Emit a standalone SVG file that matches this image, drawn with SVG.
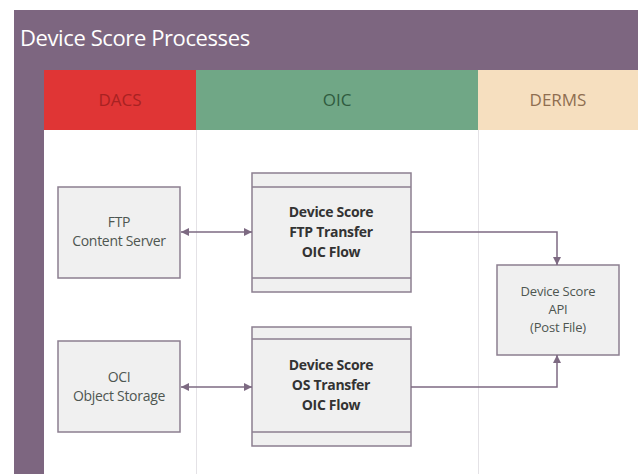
<svg xmlns="http://www.w3.org/2000/svg" width="638" height="474" viewBox="0 0 638 474">
<defs>
<style>
.lbl{font-family:"Open Sans","Liberation Sans",sans-serif;font-size:14px;fill:#4e5650;text-anchor:middle;letter-spacing:-0.3px}
.api{font-family:"Open Sans","Liberation Sans",sans-serif;font-size:13px;fill:#4e5650;text-anchor:middle;letter-spacing:-0.2px}
.bld{font-family:"Open Sans","Liberation Sans",sans-serif;font-size:14px;font-weight:bold;fill:#333;text-anchor:middle;letter-spacing:-0.3px}
.lane{font-family:"Open Sans","Liberation Sans",sans-serif;font-size:17px;text-anchor:middle}
.box{fill:#f0f0f0;stroke:#8c7f90;stroke-width:1.5}
.con{fill:none;stroke:#7d6a82;stroke-width:1.5}
</style>
<marker id="ah" viewBox="0 0 10 10" refX="10" refY="5" markerWidth="8" markerHeight="8" markerUnits="userSpaceOnUse" orient="auto-start-reverse">
<path d="M0,0 L10,5 L0,10 z" fill="#7d6a82"/>
</marker>
</defs>
<rect width="638" height="474" fill="#ffffff"/>
<g id="pool">
<rect x="14" y="10" width="624" height="60" fill="#7d6680"/>
<rect x="14" y="70" width="30" height="404" fill="#7d6680"/>
<text x="20" y="46" font-family="'Open Sans','Liberation Sans',sans-serif" font-size="22" letter-spacing="-0.4" fill="#ffffff">Device Score Processes</text>
</g>
<g id="lane-dacs">
<rect x="44" y="70" width="152" height="60" fill="#e03535"/>
<text class="lane" x="120" y="106" fill="#a82222">DACS</text>
</g>
<g id="lane-oic">
<rect x="196" y="70" width="282" height="60" fill="#70a786"/>
<text class="lane" x="337" y="106" fill="#2f5a3e">OIC</text>
</g>
<g id="lane-derms">
<rect x="478" y="70" width="160" height="60" fill="#f6dfbf"/>
<text class="lane" x="558" y="106" fill="#8f6e50">DERMS</text>
</g>
<g id="dividers" stroke="#e4e2e6" stroke-width="1">
<line x1="196.5" y1="130" x2="196.5" y2="474"/>
<line x1="478.5" y1="130" x2="478.5" y2="474"/>
</g>
<g id="ftp-server">
<rect class="box" x="58" y="187" width="122" height="91"/>
<text class="lbl" x="119" y="227">FTP</text>
<text class="lbl" x="119" y="246">Content Server</text>
</g>
<g id="ftp-flow">
<rect class="box" x="252" y="173" width="159" height="119"/>
<line x1="252" y1="187" x2="411" y2="187" stroke="#8c7f90" stroke-width="1.5"/>
<line x1="252" y1="278" x2="411" y2="278" stroke="#8c7f90" stroke-width="1.5"/>
<text class="bld" x="331" y="217">Device Score</text>
<text class="bld" x="331" y="237">FTP Transfer</text>
<text class="bld" x="331" y="257">OIC Flow</text>
</g>
<g id="oci-storage">
<rect class="box" x="58" y="341" width="122" height="91"/>
<text class="lbl" x="119" y="382">OCI</text>
<text class="lbl" x="119" y="401">Object Storage</text>
</g>
<g id="os-flow">
<rect class="box" x="252" y="327" width="159" height="119"/>
<line x1="252" y1="339" x2="411" y2="339" stroke="#8c7f90" stroke-width="1.5"/>
<line x1="252" y1="432" x2="411" y2="432" stroke="#8c7f90" stroke-width="1.5"/>
<text class="bld" x="331" y="370">Device Score</text>
<text class="bld" x="331" y="390">OS Transfer</text>
<text class="bld" x="331" y="410">OIC Flow</text>
</g>
<g id="api">
<rect class="box" x="497" y="265" width="122" height="90"/>
<text class="api" x="558" y="296">Device Score</text>
<text class="api" x="558" y="314">API</text>
<text class="api" x="558" y="332">(Post File)</text>
</g>
<g id="connectors">
<line class="con" x1="181" y1="232" x2="252" y2="232" marker-start="url(#ah)" marker-end="url(#ah)"/>
<line class="con" x1="181" y1="387" x2="252" y2="387" marker-start="url(#ah)" marker-end="url(#ah)"/>
<path class="con" d="M411,232 H557 V265" marker-end="url(#ah)"/>
<path class="con" d="M411,387 H557 V355" marker-end="url(#ah)"/>
</g>
</svg>
